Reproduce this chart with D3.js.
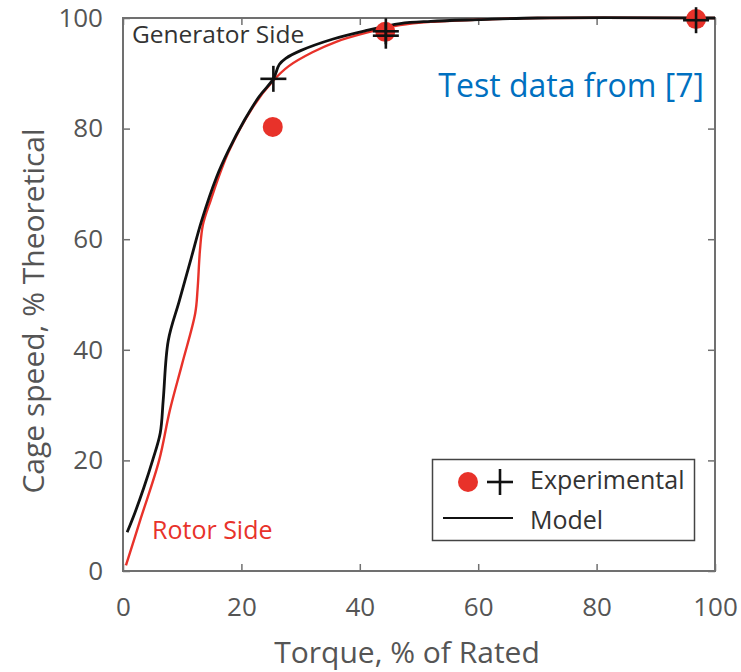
<!DOCTYPE html>
<html>
<head>
<meta charset="utf-8">
<script src="https://cdn.jsdelivr.net/npm/d3@7"></script>
<style>
  body { margin: 0; background: #fff; }
  text { font-family: "Open Sans", sans-serif; }
</style>
</head>
<body>
<div id="chart"></div>
<script>
// model curve, generator side (black)
const genX = [0.7, 2, 3.5, 5, 6.3, 6.8, 7.65, 9.5, 11.5, 13.3, 15.8, 17.8, 20.5, 23, 25.4, 26.4, 27.5, 30, 35.5, 41, 46.8, 52, 60, 70, 100];
const genY = [7, 10.5, 15, 20, 25, 31, 41.7, 48.8, 56.5, 63.4, 71.2, 76, 81.5, 85.8, 89, 91.6, 92.7, 94.1, 96.2, 97.7, 99, 99.4, 99.7, 100, 100];
// model curve, rotor side (red)
const rotX = [0.5, 3, 6.1, 7.9, 10, 12.2, 12.6, 13, 13.5, 14.8, 17.8, 22, 25.4, 28, 32, 36, 41, 46.8, 52, 60, 70, 100];
const rotY = [1, 9.5, 20, 29, 37.5, 46.6, 51, 58, 62.6, 67, 75.7, 84, 88.7, 91.3, 93.8, 95.7, 97.3, 98.7, 99.3, 99.7, 100, 100];
// experimental points
const dotX = [25.3, 44.3, 96.8];
const dotY = [80.3, 97.5, 99.8];
const plusX = [25.4, 44.4, 44.4, 96.8];
const plusY = [89, 97.6, 96.8, 99.6];
const ticks = [0, 20, 40, 60, 80, 100];

const W = 741, H = 672;
const mLeft = 123, mRight = 715, mTop = 18, mBottom = 571;
const RED = "#e8322a";

const svg = d3.select("#chart").append("svg")
  .attr("width", W).attr("height", H);

const x = d3.scaleLinear().domain([0, 100]).range([mLeft, mRight]);
const y = d3.scaleLinear().domain([0, 100]).range([mBottom, mTop]);

// frame with inward ticks on all four sides
const axisColor = "#707070";
function styleAxis(g) {
  g.select(".domain").remove();
  g.selectAll(".tick line").attr("stroke", axisColor).attr("stroke-width", 1.5);
}
svg.append("g").attr("transform", `translate(0,${mBottom})`)
  .call(d3.axisBottom(x).tickValues(ticks).tickSizeInner(-7).tickSizeOuter(0).tickPadding(27))
  .call(styleAxis)
  .call(g => g.selectAll("text").attr("fill", "#555").attr("font-size", 26)
    .attr("font-family", "Open Sans"));
svg.append("g").attr("transform", `translate(0,${mTop})`)
  .call(d3.axisTop(x).tickValues(ticks).tickSizeInner(-7).tickSizeOuter(0).tickFormat(""))
  .call(styleAxis);
svg.append("g").attr("transform", `translate(${mLeft},0)`)
  .call(d3.axisLeft(y).tickValues(ticks).tickSizeInner(-7).tickSizeOuter(0).tickPadding(20))
  .call(styleAxis)
  .call(g => g.selectAll("text").attr("fill", "#555").attr("font-size", 26)
    .attr("font-family", "Open Sans"));
svg.append("g").attr("transform", `translate(${mRight},0)`)
  .call(d3.axisRight(y).tickValues(ticks).tickSizeInner(-7).tickSizeOuter(0).tickFormat(""))
  .call(styleAxis);

svg.append("rect")
  .attr("x", mLeft).attr("y", mTop)
  .attr("width", mRight - mLeft).attr("height", mBottom - mTop)
  .attr("fill", "none").attr("stroke", axisColor).attr("stroke-width", 2);

// axis titles
svg.append("text")
  .attr("x", 407).attr("y", 663)
  .attr("text-anchor", "middle")
  .attr("fill", "#555").attr("font-size", 30)
  .text("Torque, % of Rated");
svg.append("text")
  .attr("transform", "translate(44,311) rotate(-90)")
  .attr("text-anchor", "middle")
  .attr("fill", "#555").attr("font-size", 30)
  .text("Cage speed, % Theoretical");

// model curves
const line = d3.line()
  .x(d => x(d[0])).y(d => y(d[1]))
  .curve(d3.curveCatmullRom.alpha(0.5));

svg.append("path")
  .datum(rotX.map((v, i) => [v, rotY[i]]))
  .attr("d", line)
  .attr("fill", "none").attr("stroke", RED).attr("stroke-width", 2.4);
svg.append("path")
  .datum(genX.map((v, i) => [v, genY[i]]))
  .attr("d", line)
  .attr("fill", "none").attr("stroke", "#111").attr("stroke-width", 2.8);

// experimental markers
svg.append("g").selectAll("circle")
  .data(dotX.map((v, i) => [v, dotY[i]]))
  .join("circle")
  .attr("cx", d => x(d[0])).attr("cy", d => y(d[1]))
  .attr("r", 10).attr("fill", RED);

function plus(g, cx, cy, s) {
  g.append("line").attr("x1", cx - s).attr("x2", cx + s).attr("y1", cy).attr("y2", cy);
  g.append("line").attr("x1", cx).attr("x2", cx).attr("y1", cy - s).attr("y2", cy + s);
}
const plusG = svg.append("g").attr("stroke", "#111").attr("stroke-width", 2.6);
plusX.forEach((v, i) => plus(plusG, x(v), y(plusY[i]), 13));

// annotations
svg.append("text")
  .attr("x", 132).attr("y", 43)
  .attr("fill", "#333").attr("font-size", 24.5)
  .text("Generator Side");
svg.append("text")
  .attr("x", 152).attr("y", 539)
  .attr("fill", RED).attr("font-size", 25)
  .text("Rotor Side");
svg.append("text")
  .attr("x", 704).attr("y", 97)
  .attr("text-anchor", "end")
  .attr("fill", "#0070c0").attr("font-size", 32)
  .attr("font-family", "Lato")
  .text("Test data from [7]");

// legend
const leg = svg.append("g");
leg.append("rect")
  .attr("x", 432.5).attr("y", 459.5)
  .attr("width", 262).attr("height", 81)
  .attr("fill", "#fff").attr("stroke", "#444").attr("stroke-width", 1.5);
leg.append("circle").attr("cx", 468).attr("cy", 482).attr("r", 10).attr("fill", RED);
const legPlus = leg.append("g").attr("stroke", "#111").attr("stroke-width", 2.6);
plus(legPlus, 500, 482, 13);
leg.append("line")
  .attr("x1", 443).attr("x2", 513).attr("y1", 518).attr("y2", 518)
  .attr("stroke", "#111").attr("stroke-width", 2);
leg.append("text").attr("x", 530).attr("y", 489)
  .attr("fill", "#333").attr("font-size", 25).text("Experimental");
leg.append("text").attr("x", 530).attr("y", 529)
  .attr("fill", "#333").attr("font-size", 25).text("Model");
</script>
</body>
</html>
